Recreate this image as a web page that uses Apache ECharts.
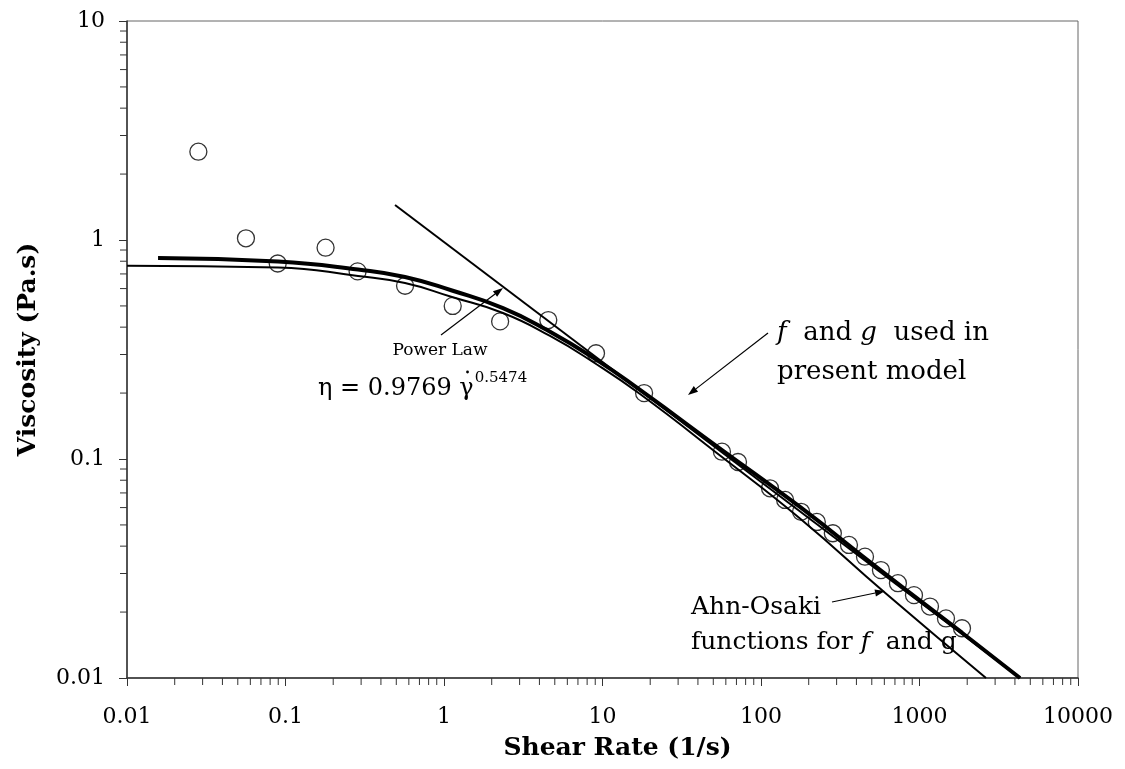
<!DOCTYPE html>
<html>
<head>
<meta charset="utf-8">
<script src="https://cdn.jsdelivr.net/npm/echarts@6/dist/echarts.min.js"></script>
<style>
html,body{margin:0;padding:0;background:#fff;}
#chart{width:1125px;height:769px;}
</style>
</head>
<body>
<div id="chart"></div>
<script>
// ---- data ----
const shearRate = [0.0282, 0.0563, 0.0893, 0.179, 0.285, 0.568, 1.135, 2.26, 4.55, 9.1, 18.3,
  56.7, 71.6, 114, 142, 179, 225, 284, 359, 453, 571, 731, 923, 1164, 1469, 1854];
const viscosity = [2.53, 1.018, 0.781, 0.922, 0.719, 0.618, 0.50, 0.425, 0.431, 0.304, 0.20,
  0.108, 0.0969, 0.0735, 0.0650, 0.0574, 0.0516, 0.0458, 0.0405, 0.0358, 0.0311, 0.0271, 0.0239, 0.0212, 0.0187, 0.01687];

// f and g used in present model (thick curve)
const modelX = [0.0157, 0.0897, 0.287, 0.5675, 1.123, 2.356, 4.465, 9.23, 17.25, 56.75, 176.2, 563.4, 1854, 4306];
const modelY = [0.828, 0.798, 0.733, 0.678, 0.588, 0.489, 0.388, 0.283, 0.2066, 0.1099, 0.0604, 0.0312, 0.0161, 0.01];

// Ahn-Osaki functions (thin curve)
const ahnX = [0.01, 0.0897, 0.2867, 0.5675, 1.123, 2.356, 4.665, 8.71, 17.25, 56.75, 176.2, 605.8, 2628];
const ahnY = [0.763, 0.749, 0.685, 0.636, 0.549, 0.464, 0.3645, 0.2773, 0.198, 0.1021, 0.0535, 0.0245, 0.01];

// Power law line end points
const powerX = [0.491, 4316];
const powerY = [1.445, 0.01];

const xTickLabels = ['0.01', '0.1', '1', '10', '100', '1000', '10000'];
const yTickLabels = ['0.01', '0.1', '1', '10'];
const xMinor = [];
for (let d = -2; d < 4; d++) for (let m = 2; m <= 9; m++) xMinor.push(m * Math.pow(10, d));
const yMinor = [];
for (let d = -2; d < 1; d++) for (let m = 2; m <= 9; m++) yMinor.push(m * Math.pow(10, d));

// ---- chart ----
const FONT = '"DejaVu Serif", "Liberation Serif", serif';
const zip = (a, b) => a.map((v, i) => [v, b[i]]);
const chart = echarts.init(document.getElementById('chart'), null, {renderer: 'canvas'});

function minorTicks(values, dir) {
  return {
    type: 'custom', silent: true, clip: false, z: 5,
    data: values.map(v => dir === 'x' ? [v, 0.01] : [0.01, v]),
    renderItem: function (params, api) {
      const p = api.coord([api.value(0), api.value(1)]);
      const shape = dir === 'x'
        ? {x1: p[0], y1: p[1], x2: p[0], y2: p[1] + 7}
        : {x1: p[0] - 7, y1: p[1], x2: p[0], y2: p[1]};
      return {type: 'line', shape: shape, style: {stroke: '#333', lineWidth: 1}};
    }
  };
}

function arrow(x1, y1, x2, y2) {
  const ang = Math.atan2(y2 - y1, x2 - x1);
  const L = 10, W = 3.5;
  const bx = x2 - L * Math.cos(ang), by = y2 - L * Math.sin(ang);
  const px = -Math.sin(ang) * W, py = Math.cos(ang) * W;
  return [
    {type: 'line', shape: {x1: x1, y1: y1, x2: bx, y2: by}, style: {stroke: '#000', lineWidth: 1.2}, z: 10},
    {type: 'polygon', shape: {points: [[x2, y2], [bx + px, by + py], [bx - px, by - py]]}, style: {fill: '#000'}, z: 10}
  ];
}

// position of the dot over gamma in the power-law equation
const EQ_X = 318, EQ_Y = 386;
const mctx = document.createElement('canvas').getContext('2d');
mctx.font = '24px ' + FONT;
const preW = mctx.measureText('η = 0.9769 ').width;
const gamW = mctx.measureText('γ').width;

const option = {
  backgroundColor: '#fff',
  animation: false,
  grid: {left: 127, right: 47, top: 21, bottom: 91, show: true, borderColor: '#666', borderWidth: 1},
  xAxis: {
    type: 'log', logBase: 10, min: 0.01, max: 10000,
    name: 'Shear Rate (1/s)', nameLocation: 'middle', nameGap: 58,
    nameTextStyle: {fontFamily: FONT, fontWeight: 'bold', fontSize: 25, color: '#000', padding: [0, 0, 0, 30]},
    axisLine: {lineStyle: {color: '#333', width: 1.5}},
    axisTick: {show: true, inside: false, length: 8, lineStyle: {color: '#333', width: 1}},
    minorTick: {show: false},
    splitLine: {show: false},
    axisLabel: {margin: 28, fontFamily: FONT, fontSize: 22, color: '#000',
      formatter: v => xTickLabels[Math.round(Math.log10(v)) + 2]}
  },
  yAxis: {
    type: 'log', logBase: 10, min: 0.01, max: 10,
    name: 'Viscosity (Pa.s)', nameLocation: 'middle', nameGap: 86, nameRotate: 90,
    nameTextStyle: {fontFamily: FONT, fontWeight: 'bold', fontSize: 25, color: '#000'},
    axisLine: {lineStyle: {color: '#333', width: 1.5}},
    axisTick: {show: true, inside: false, length: 8, lineStyle: {color: '#333', width: 1}},
    minorTick: {show: false},
    splitLine: {show: false},
    axisLabel: {margin: 22, fontFamily: FONT, fontSize: 22, color: '#000',
      formatter: v => yTickLabels[Math.round(Math.log10(v)) + 2]}
  },
  series: [
    minorTicks(xMinor, 'x'),
    minorTicks(yMinor, 'y'),
    {type: 'line', data: zip(ahnX, ahnY), smooth: 0.5, showSymbol: false, symbol: 'none',
      lineStyle: {color: '#000', width: 2}, z: 3},
    {type: 'line', data: zip(modelX, modelY), smooth: 0.5, showSymbol: false, symbol: 'none',
      lineStyle: {color: '#000', width: 4}, z: 3},
    {type: 'line', data: zip(powerX, powerY), showSymbol: false, symbol: 'none',
      lineStyle: {color: '#000', width: 2}, z: 3},
    {type: 'scatter', data: zip(shearRate, viscosity), symbol: 'circle', symbolSize: 17,
      itemStyle: {color: 'rgba(0,0,0,0)', borderColor: '#000', borderWidth: 1.3}, z: 4}
  ],
  graphic: [].concat(
    arrow(441, 335, 503, 288),
    arrow(768, 333, 688, 395),
    arrow(832, 602, 885, 591),
    [
      {type: 'text', z: 10, style: {text: 'Power Law', x: 440, y: 351, textAlign: 'center', textVerticalAlign: 'middle',
        fontFamily: FONT, fontSize: 17, fill: '#000'}},
      {type: 'text', z: 10, style: {text: '{m|η = 0.9769 γ}{s|0.5474}', x: EQ_X, y: EQ_Y, textVerticalAlign: 'middle',
        fontFamily: FONT, fontSize: 24, fill: '#000',
        rich: {m: {fontFamily: FONT, fontSize: 24, lineHeight: 30, verticalAlign: 'bottom'},
               s: {fontFamily: FONT, fontSize: 15, lineHeight: 30, verticalAlign: 'top', padding: [0, 0, 10, 1]}}}},
      {type: 'circle', z: 10, shape: {cx: EQ_X + preW + gamW / 2 + 1, cy: EQ_Y - 14, r: 1.4}, style: {fill: '#000'}},
      {type: 'text', z: 10, style: {text: '{i|f}  and {i|g}  used in', x: 777, y: 333, textVerticalAlign: 'middle',
        fontFamily: FONT, fontSize: 26, fill: '#000',
        rich: {i: {fontFamily: FONT, fontSize: 26, fontStyle: 'italic'}}}},
      {type: 'text', z: 10, style: {text: 'present model', x: 777, y: 372, textVerticalAlign: 'middle',
        fontFamily: FONT, fontSize: 26, fill: '#000'}},
      {type: 'text', z: 10, style: {text: 'Ahn-Osaki', x: 691, y: 607, textVerticalAlign: 'middle',
        fontFamily: FONT, fontSize: 25, fill: '#000'}},
      {type: 'text', z: 10, style: {text: 'functions for {i|f}  and g', x: 691, y: 642, textVerticalAlign: 'middle',
        fontFamily: FONT, fontSize: 25, fill: '#000',
        rich: {i: {fontFamily: FONT, fontSize: 25, fontStyle: 'italic'}}}}
    ]
  )
};
chart.setOption(option);
</script>
</body>
</html>
